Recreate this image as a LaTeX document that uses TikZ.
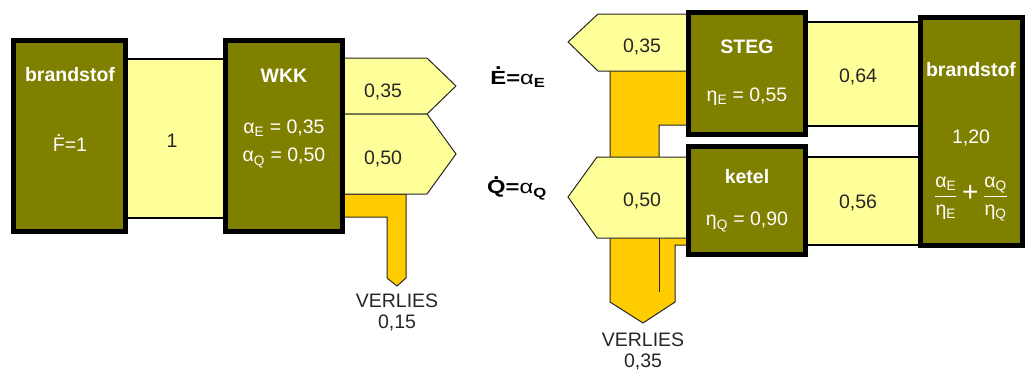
\documentclass[tikz,border=0pt]{standalone}
\usepackage{fontspec}
\setmainfont{Liberation Sans}
\definecolor{boxolive}{HTML}{808000}
\definecolor{bandyel}{HTML}{FFFF99}
\definecolor{lossorg}{HTML}{FFCC00}
\newcommand\dotabove[1]{\leavevmode\setbox0\hbox{#1}\rlap{\hbox to\wd0{\hss\raisebox{\dimexpr\ht0+1.5pt\relax}{.}\hss}}\box0}
\tikzset{
  boxst/.style={draw=black, line width=5pt, fill=boxolive},
  bandst/.style={draw=black, line width=1.3pt, fill=bandyel},
  arrowst/.style={draw=black!85, line width=1pt, fill=bandyel, line join=miter},
  lossst/.style={draw=black!85, line width=1pt, fill=lossorg, line join=miter},
  wt/.style={text=white, font=\fontsize{19.5}{22}\selectfont, inner sep=0pt},
  wtb/.style={text=white, font=\fontsize{19.5}{22}\selectfont\bfseries, inner sep=0pt},
  dt/.style={text=black!85, font=\fontsize{19.5}{22}\selectfont, inner sep=0pt},
  lbl/.style={text=black, font=\fontsize{19}{22}\selectfont, inner sep=0pt},
}
\begin{document}
\begin{tikzpicture}[x=1pt,y=-1pt]
\useasboundingbox (0,0) rectangle (1026,376);
% ---------- left part ----------
\draw[bandst] (126,59) rectangle (225,218);
\draw[lossst] (343,194) -- (406,194) -- (406,278) -- (397,286) -- (387,278) -- (387,217) -- (343,217) -- cycle;
\draw[arrowst] (343,58) -- (427,58) -- (456,86) -- (427,114) -- (343,114) -- cycle;
\draw[arrowst] (343,114) -- (427,114) -- (456,154) -- (427,194) -- (343,194) -- cycle;
\draw[boxst] (13.5,40.5) rectangle (125.5,231.5);
\draw[boxst] (225.5,40.5) rectangle (342.5,231.5);
\node[wtb] (bl) at (70,75) {brandstof};
\node[wt] (fl) at (70,143) {\dotabove{F}=1};
\node[dt] (one) at (172,141) {1};
\node[wtb] (wkk) at (284,76) {WKK};
\node[wt] (ae) at (284,128) {α\textsubscript{E} = 0,35};
\node[wt] (aq) at (284,158) {α\textsubscript{Q} = 0,50};
\node[dt] (o35) at (383,92) {0,35};
\node[dt] (o50) at (383,159) {0,50};
\node[dt] (v1) at (397,301) {VERLIES};
\node[dt] (v1n) at (397,323) {0,15};
% ---------- right part ----------
\draw[bandst] (806,22) rectangle (920,126);
\draw[bandst] (806,157) rectangle (920,245);
\draw[lossst] (688,68) -- (610,68) -- (610,302) -- (643,323) -- (675,302) -- (675,245) -- (688,245)
  -- (688,200) -- (659,200) -- (659,125) -- (688,125) -- cycle;
\draw[black!85, line width=1pt] (659,230) -- (659,292);
\draw[arrowst] (688,14) -- (598,14) -- (568,42) -- (598,71) -- (688,71) -- cycle;
\draw[arrowst] (688,157) -- (597,157) -- (568,197) -- (597,238) -- (688,238) -- cycle;
\draw[boxst] (688.5,12.5) rectangle (805.5,134.5);
\draw[boxst] (688.5,146.5) rectangle (805.5,254.5);
\draw[boxst] (920.5,17.5) rectangle (1022.5,245.5);
\node[wtb] (steg) at (747,47) {STEG};
\node[wt] (ee) at (747,97) {η\textsubscript{E} = 0,55};
\node[wtb] (ketel) at (747,177) {ketel};
\node[wt] (eq) at (747,222) {η\textsubscript{Q} = 0,90};
\node[dt] (r64) at (858,77) {0,64};
\node[dt] (r56) at (858,203) {0,56};
\node[wtb] (br) at (971,70) {brandstof};
\node[wt] (r120) at (971,138) {1,20};
\node[wt] (frac) at (971,199) {$\displaystyle\frac{\mbox{α\textsubscript{E}}}{\mbox{η\textsubscript{E}}}\mbox{\fontsize{28}{28}\selectfont\,+\,}\frac{\mbox{α\textsubscript{Q}}}{\mbox{η\textsubscript{Q}}}$};
\node[dt] (r35) at (642,47) {0,35};
\node[dt] (r50) at (642,201) {0,50};
\node[lbl] (el) at (518,77) {\scalebox{1.25}[1]{\textbf{\dotabove{E}=}α\textsubscript{\textbf{E}}}};
\node[lbl] (ql) at (517,188) {\scalebox{1.25}[1]{\textbf{\dotabove{Q}=}α\textsubscript{\textbf{Q}}}};
\node[dt] (v2) at (643,340) {VERLIES};
\node[dt] (v2n) at (643,362) {0,35};
\end{tikzpicture}
\end{document}
